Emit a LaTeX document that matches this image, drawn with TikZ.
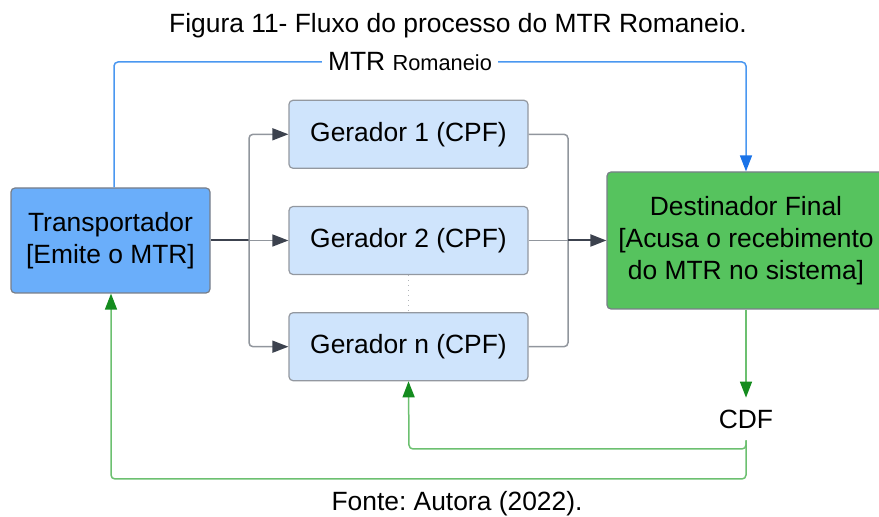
\documentclass[tikz,border=0pt]{standalone}
\usepackage{fontspec}
\setmainfont{Liberation Sans}
\usepackage{xcolor}
\usetikzlibrary{arrows.meta, positioning}
\frenchspacing

\definecolor{transpfill}{RGB}{106,174,250}
\definecolor{gerfill}{RGB}{207,228,252}
\definecolor{destfill}{RGB}{86,195,94}
\definecolor{boxline}{RGB}{120,126,136}
\definecolor{blueline}{RGB}{74,151,240}
\definecolor{bluetip}{RGB}{26,115,232}
\definecolor{greenline}{RGB}{108,192,112}
\definecolor{greentip}{RGB}{20,140,30}
\definecolor{grayline}{RGB}{145,150,157}
\definecolor{darkline}{RGB}{60,66,78}

\begin{document}
\begin{tikzpicture}[x=0.5pt, y=-0.5pt,
            font=\fontsize{13.2}{16}\selectfont,
            transp/.style ={rectangle, rounded corners=2pt, draw=boxline, line width=0.6pt, fill=transpfill,
                            minimum width=99.5pt, minimum height=52.5pt, align=center, inner sep=0pt},
            gerbox/.style ={rectangle, rounded corners=2pt, draw=boxline!80, line width=0.6pt, fill=gerfill,
                            minimum width=119.5pt, minimum height=34pt, inner sep=0pt},
            destbox/.style={rectangle, rounded corners=2pt, draw=boxline, line width=0.6pt, fill=destfill,
                            minimum width=139pt, minimum height=68.5pt, align=center, inner sep=0pt},
            branch/.style ={grayline, line width=0.75pt, rounded corners=2pt},
            arr/.style    ={-{Triangle[length=8pt, width=6pt]}, line width=0.75pt},
            garr/.style   ={greenline, line width=0.75pt, rounded corners=2pt,
                            -{Triangle[length=8pt, width=6pt, fill=greentip, color=greentip]}},
        ]
            \useasboundingbox (0,0) rectangle (879,517);

            \node (titulo) at (458,26) {Figura 11- Fluxo do processo do MTR Romaneio.};
            \node (fonte)  at (457,504) {Fonte: Autora (2022).};

            \node[transp]  (transp) at (110.5,240.5) {Transportador\\{[}Emite o MTR{]}};
            \node[gerbox]  (ger2)   at (408.5,240.5) {Gerador 2 (CPF)};
            \node[gerbox, above=18.5pt of ger2] (ger1) {Gerador 1 (CPF)};
            \node[gerbox, below=18.5pt of ger2] (gern) {Gerador n (CPF)};
            \node[destbox] (dest)   at (746,240.5) {Destinador Final\\{[}Acusa o recebimento\\do MTR no sistema{]}};
            \node[inner sep=0pt, minimum height=21pt] (cdf) at (746,419) {CDF};

            \coordinate (jin)  at (249,240.5);
            \coordinate (jout) at (568,240.5);

            % MTR Romaneio
            \draw[blueline, line width=0.75pt, rounded corners=2pt,
                  -{Triangle[length=8pt, width=6pt, fill=bluetip, color=bluetip]}]
                (transp.north -| 114,0) |- (746,62) -- (dest.north);
            \node[fill=white, inner xsep=3pt, inner ysep=1pt] (mtr) at (410,62) {MTR {\fontsize{10.9}{12}\selectfont Romaneio}};

            % Transportador -> geradores
            \draw[darkline, line width=1pt] (transp.east) -- (jin);
            \draw[branch, -{Triangle[length=8pt, width=6pt, fill=darkline, color=darkline]}] (jin) |- (ger1.west);
            \draw[branch, -{Triangle[length=8pt, width=6pt, fill=darkline, color=darkline]}] (jin) -- (ger2.west);
            \draw[branch, -{Triangle[length=8pt, width=6pt, fill=darkline, color=darkline]}] (jin) |- (gern.west);
            \draw[grayline!70, line width=0.5pt, dotted] (ger2.south) -- (gern.north);

            % geradores -> destinador
            \draw[branch] (ger1.east) -| (jout);
            \draw[branch] (ger2.east) -- (jout);
            \draw[branch] (gern.east) -| (jout);
            \draw[arr, darkline, line width=1pt] (jout) -- (dest.west);

            % CDF
            \draw[garr] (dest.south) -- (cdf.north);
            \draw[garr] (cdf.south) |- (409,449) -- (gern.south);
            \draw[garr] (cdf.south) |- (111,479) -- (transp.south -| 111,0);
        \end{tikzpicture}
\end{document}
